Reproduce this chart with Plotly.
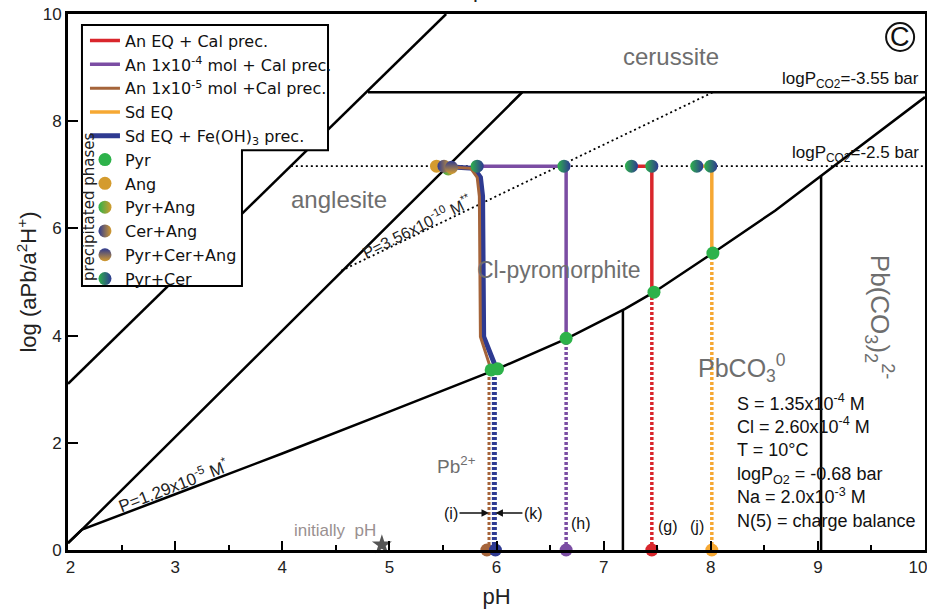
import plotly.graph_objects as go

# ---------------- data ----------------
# phase boundaries (pH, log(aPb/a2H+))
line1_x = [2.0, 5.53]
line1_y = [3.1, 10.0]
line2_x = [2.0, 2.13, 6.24]
line2_y = [0.13, 0.38, 8.54]
cer_x = [4.8, 10.0]
cer_y = [8.54, 8.54]
lower_x = [2.0, 2.13, 3.0, 4.0, 5.0, 5.65, 6.0, 6.65, 7.2, 7.47, 8.02, 8.6, 9.14, 10.0]
lower_y = [0.13, 0.38, 1.04, 1.80, 2.58, 3.10, 3.37, 3.94, 4.50, 4.81, 5.54, 6.33, 7.15, 8.45]
vert1_x = [7.18, 7.18]
vert1_y = [0.0, 4.48]
vert2_x = [9.03, 9.03]
vert2_y = [0.0, 6.98]
pco2_x = [4.08, 10.0]
pco2_y = [7.16, 7.16]
p356_x = [4.55, 8.02]
p356_y = [5.21, 8.54]

# reaction paths
red_dot_x, red_dot_y = [7.45, 7.45], [0.0, 4.81]
red_x, red_y = [7.45, 7.45, 7.26], [4.81, 7.16, 7.16]
pur_dot_x, pur_dot_y = [6.65, 6.65], [0.0, 3.94]
pur_x, pur_y = [6.65, 6.65, 5.8], [3.94, 7.16, 7.16]
ora_dot_x, ora_dot_y = [8.01, 8.01], [0.0, 5.54]
ora_x, ora_y = [8.01, 8.01, 7.87], [5.54, 7.16, 7.16]
bro_dot_x, bro_dot_y = [5.93, 5.93], [0.0, 3.36]
bro_x = [5.95, 5.85, 5.84, 5.82, 5.76, 5.45]
bro_y = [3.36, 3.98, 6.6, 6.95, 7.12, 7.16]
blu_dot_x, blu_dot_y = [5.98, 5.98], [0.0, 3.38]
blu_x = [6.0, 5.88, 5.87, 5.85, 5.79, 5.48]
blu_y = [3.38, 3.98, 6.6, 6.95, 7.12, 7.16]

# initial points on pH axis
init_x = [5.91, 5.99, 6.65, 7.45, 8.01]
init_y = [0.0, 0.0, 0.0, 0.0, 0.0]
star_x, star_y = [4.93], [0.1]

# precipitated phases
pyr_x = [5.95, 6.01, 6.65, 7.47, 8.02]
pyr_y = [3.36, 3.38, 3.95, 4.81, 5.54]
ang_x, ang_y = [5.44], [7.16]
pyrang_x, pyrang_y = [5.55], [7.11]
cerang_x, cerang_y = [5.51], [7.16]
pca_x, pca_y = [5.58], [7.14]
pyrcer_x = [5.82, 6.63, 7.26, 7.45, 7.87, 8.0]
pyrcer_y = [7.16, 7.16, 7.16, 7.16, 7.16, 7.16]

xticks = [2, 3, 4, 5, 6, 7, 8, 9, 10]
xticklabels = ["&nbsp;2", "3", "4", "5", "6", "7", "8", "9", "10&nbsp;&nbsp;&nbsp;"]
yticks = [0, 2, 4, 6, 8, 10]

RED = "#D9262C"
PUR = "#7B4DA3"
BRO = "#A5643A"
ORA = "#F6A833"
BLU = "#2E3A91"
GRN = "#2DB24A"
ANG = "#D49B2E"
GRAY = "#6E6E6E"
FONT = "Liberation Sans, Arial"

fig = go.Figure()

def bline(x, y, dash="solid", w=2.5):
    fig.add_trace(go.Scatter(x=x, y=y, mode="lines", showlegend=False, hoverinfo="skip",
                             line=dict(color="black", width=w, dash=dash)))

bline(line1_x, line1_y)
bline(line2_x, line2_y)
bline(cer_x, cer_y)
bline(lower_x, lower_y)
bline(vert1_x, vert1_y)
bline(vert2_x, vert2_y)
bline(pco2_x, pco2_y, dash="2px,3px", w=1.8)
bline(p356_x, p356_y, dash="2px,3px", w=1.8)

def path(x, y, xd, yd, color, name, rank, w=3.5):
    fig.add_trace(go.Scatter(x=xd, y=yd, mode="lines", showlegend=False, hoverinfo="skip",
                             line=dict(color=color, width=w, dash="3px,2px")))
    fig.add_trace(go.Scatter(x=x, y=y, mode="lines", name=name, legendrank=rank,
                             line=dict(color=color, width=w)))

path(blu_x, blu_y, blu_dot_x, blu_dot_y, BLU, "Sd EQ + Fe(OH)<sub>3</sub> prec.", 5, w=5)
path(bro_x, bro_y, bro_dot_x, bro_dot_y, BRO, "An 1x10<sup>-5</sup> mol +Cal prec.", 3, w=3)
path(pur_x, pur_y, pur_dot_x, pur_dot_y, PUR, "An 1x10<sup>-4</sup> mol + Cal prec.", 2)
path(red_x, red_y, red_dot_x, red_dot_y, RED, "An EQ + Cal prec.", 1)
path(ora_x, ora_y, ora_dot_x, ora_dot_y, ORA, "Sd EQ", 4)

fig.add_trace(go.Scatter(x=init_x, y=init_y, mode="markers", showlegend=False, cliponaxis=False,
                         marker=dict(size=13, color=[BRO, BLU, PUR, RED, ORA])))
fig.add_trace(go.Scatter(x=star_x, y=star_y, mode="markers", showlegend=False, cliponaxis=False,
                         marker=dict(size=15, symbol="star", color="#555555")))

def phase(x, y, name, rank, c1, c2=None, gtype="horizontal"):
    m = dict(size=13, color=c1, line=dict(width=0))
    if c2 is not None:
        m["gradient"] = dict(type=gtype, color=c2)
    fig.add_trace(go.Scatter(x=x, y=y, mode="markers", name=name, legendrank=rank,
                             cliponaxis=False, marker=m))

phase(pyr_x, pyr_y, "Pyr", 6, GRN)
phase(ang_x, ang_y, "Ang", 7, ANG)
phase(pyrang_x, pyrang_y, "Pyr+Ang", 8, GRN, ANG)
phase(cerang_x, cerang_y, "Cer+Ang", 9, BLU, ANG)
phase(pca_x, pca_y, "Pyr+Cer+Ang", 10, BLU, ANG, "vertical")
phase(pyrcer_x, pyrcer_y, "Pyr+Cer", 11, GRN, BLU)

# ---------------- annotations ----------------
ann = []
def txt(x, y, t, size=15, color="#222222", angle=0, xa="center", ya="middle", **kw):
    ann.append(dict(x=x, y=y, text=t, showarrow=False, textangle=angle, xanchor=xa, yanchor=ya,
                    font=dict(size=size, color=color, family=FONT), **kw))

txt(7.63, 9.2, "cerussite", 24, GRAY)
txt(4.53, 6.53, "anglesite", 24, GRAY)
txt(6.58, 5.22, "Cl-pyromorphite", 23, GRAY)
txt(8.29, 3.4, "PbCO<sub>3</sub><sup>0</sup>", 25, GRAY)
txt(5.63, 1.58, "Pb<sup>2+</sup>", 19, GRAY)
txt(9.58, 4.35, "Pb(CO<sub>3</sub>)<sub>2</sub><sup>2-</sup>", 26, GRAY, angle=90)
txt(4.49, 0.37, "initially  pH", 17, "#9A9090")
txt(2.98, 1.22, "P=1.29x10<sup>-5</sup> M<sup>*</sup>", 17, "#222222", angle=-21)
txt(5.26, 6.04, "P=3.56x10<sup>-10</sup> M<sup>**</sup>", 16, "#222222", angle=-26.5)
txt(9.96, 8.77, "logP<sub>CO2</sub>=-3.55 bar", 17, "#111111", xa="right")
txt(9.96, 7.38, "logP<sub>CO2</sub>=-2.5 bar", 17, "#111111", xa="right")
txt(6.79, 0.5, "(h)", 16, "#111111")
txt(7.6, 0.43, "(g)", 16, "#111111")
txt(7.87, 0.43, "(j)", 16, "#111111")
txt(8.23, 3.0, "S = 1.35x10<sup>-4</sup> M<br>Cl = 2.60x10<sup>-4</sup> M<br>T = 10°C<br>"
    "logP<sub>O2</sub> = -0.68 bar<br>Na = 2.0x10<sup>-3</sup> M<br>N(5) = charge balance",
    18, "#111111", xa="left", ya="top", align="left")

ann.append(dict(x=5.93, y=0.69, ax=-38, ay=0, text="(i)", showarrow=True, arrowhead=2,
                arrowsize=1, arrowwidth=1.5, arrowcolor="#111111", standoff=0,
                font=dict(size=16, color="#111111", family=FONT)))
ann.append(dict(x=5.99, y=0.69, ax=38, ay=0, text="(k)", showarrow=True, arrowhead=2,
                arrowsize=1, arrowwidth=1.5, arrowcolor="#111111", standoff=0,
                font=dict(size=16, color="#111111", family=FONT)))

# paper-referenced decorations
ann.append(dict(xref="paper", yref="paper", x=0.971, y=0.957, text="C", showarrow=False,
                xanchor="center", yanchor="middle",
                font=dict(size=27, color="#111111", family=FONT)))
ann.append(dict(xref="paper", yref="paper", x=0.489, y=1.019, yanchor="bottom", text="pH",
                showarrow=False, font=dict(size=22, color="#222222", family=FONT)))
ann.append(dict(xref="paper", yref="paper", x=0.0245, y=0.64, text="precipitated phases",
                textangle=-90, showarrow=False, xanchor="center", yanchor="middle",
                font=dict(size=15, color="#222222", family="DejaVu Sans")))

# legend frame (notched box) and circled-C ring
x0, x1, x2 = 0.0163, 0.3034, 0.2030
y0, y1, y2 = 0.9795, 0.746, 0.4925
shapes = [
    dict(type="path", xref="paper", yref="paper", layer="above",
         path=f"M {x0},{y0} L {x1},{y0} L {x1},{y1} L {x2},{y1} L {x2},{y2} L {x0},{y2} Z",
         fillcolor="white", line=dict(color="black", width=2)),
    dict(type="circle", xref="paper", yref="paper", x0=0.9546, x1=0.9873, y0=0.931, y1=0.983,
         line=dict(color="#111111", width=2)),
]

fig.update_layout(
    width=927, height=611,
    margin=dict(l=68, r=2, t=14, b=61),
    plot_bgcolor="white", paper_bgcolor="white",
    font=dict(family=FONT, color="#222222"),
    annotations=ann, shapes=shapes,
    showlegend=True,
    legend=dict(x=0.0198, y=0.982, xanchor="left", yanchor="top", bgcolor="rgba(0,0,0,0)",
                borderwidth=0, font=dict(size=16, color="#111111", family="DejaVu Sans"),
                tracegroupgap=0),
)
fig.update_xaxes(range=[2, 10], tickvals=xticks, ticktext=xticklabels, ticks="inside",
                 ticklen=9, tickwidth=2, automargin=False, ticklabeloverflow="allow",
                 tickcolor="black", showline=True, linewidth=3, linecolor="black", mirror=True,
                 showgrid=False, zeroline=False, tickfont=dict(size=17, color="#222222"),
                 minor=dict(dtick=0.5, ticks="inside", ticklen=5, tickwidth=2, tickcolor="black",
                            showgrid=False),
                 title=dict(text="pH", font=dict(size=22, color="#222222"), standoff=13))
fig.update_yaxes(range=[0, 10], tickvals=yticks, ticks="inside", ticklen=10, tickwidth=2,
                 automargin=False, ticklabeloverflow="allow",
                 tickcolor="black", showline=True, linewidth=3, linecolor="black", mirror=True,
                 showgrid=False, zeroline=False, tickfont=dict(size=17, color="#222222"),
                 title=dict(text="log (aPb/a<sup>2</sup>H<sup>+</sup>)",
                            font=dict(size=22, color="#222222"), standoff=0))

fig.write_html("out.html", post_script="document.body.style.margin='0';",
               config={"displayModeBar": False})
